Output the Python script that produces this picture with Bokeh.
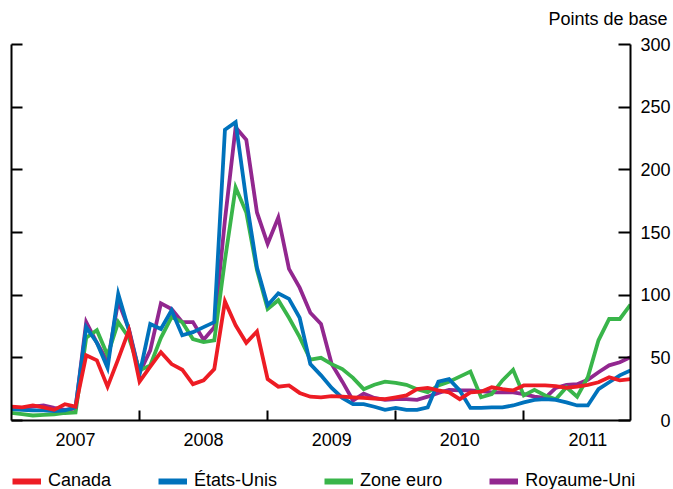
from bokeh.plotting import figure
from bokeh.layouts import column
from bokeh.models import LinearAxis, FixedTicker, Legend, LegendItem, Range1d, Label
from bokeh.embed import file_html
from bokeh.resources import INLINE

# Monthly data, January 2007 (index 0) to November 2011 (index 58)
months = list(range(59))

canada = [11, 10.5, 12, 10.5, 8.5, 13, 11, 52, 48, 27, 49, 72, 31, 43, 54.5, 45, 40.5, 29, 32, 41,
          95, 76, 62, 71, 33, 27, 28, 22, 19, 18.5, 19.5, 19, 18.5, 18, 17.5, 17, 18.5, 20, 25, 26,
          24, 22.5, 17, 22.5, 23, 26.5, 25, 24, 28, 28, 28, 27.5, 26, 27, 28.5, 30.5, 34.5, 32, 33]

etats_unis = [9, 8.5, 8, 8, 7.5, 8, 10.5, 74.5, 62, 42, 101, 72, 37, 77, 73, 88, 68, 70.5, 74.5, 78.5,
              232, 238, 176, 122, 92, 101.5, 97, 82, 45, 36, 26, 18, 13, 13, 11, 8.5, 10, 8.5, 8.5, 10.5,
              31, 33, 24, 10, 10, 10.5, 10.5, 12, 14.5, 16.5, 17, 16.5, 14.5, 12, 12, 25, 30.5, 36, 40]

zone_euro = [6, 5, 4, 4.5, 5, 6, 6.5, 66, 72, 52, 78.5, 66, 40, 44, 66, 82.5, 78.5, 65, 62.5, 64,
             128, 186, 166, 120, 89, 96, 82, 66.5, 48.5, 50, 45, 41, 34, 25, 28.5, 31, 30, 28.5, 25, 22.5,
             28, 31, 35, 39, 18.5, 21, 32, 40.5, 20, 24.5, 20, 17, 26.5, 19, 34.5, 64, 81, 81, 92.5]

royaume_uni = [9.5, 10, 11, 12, 10, 8.5, 9.5, 78.5, 62, 47, 95, 73, 38, 56, 93.5, 89, 78.5, 78.5, 64.5, 74.5,
               160, 234, 224, 166, 141, 162, 121, 106, 86, 77, 45, 31, 16, 21.5, 18, 16.5, 17, 17, 16.5, 19,
               22, 24.5, 24, 24, 23.5, 22.5, 22.5, 22.5, 21, 19, 18, 26, 28.5, 29, 32.5, 38.5, 44, 46.5, 50.5]

years = ["2007", "2008", "2009", "2010", "2011"]
year_centers = [6, 18, 30, 42, 54]
year_bounds = [12, 24, 36, 48]
y_ticks = [0, 50, 100, 150, 200, 250, 300]
y_tick_labels = ["0", "50", "100", "150", "200", "250", "300"]

series = [
    ("Royaume-Uni", royaume_uni, "#92278F"),
    ("Zone euro", zone_euro, "#39B54A"),
    ("États-Unis", etats_unis, "#0072BC"),
    ("Canada", canada, "#ED1C24"),
]
legend_order = ["Canada", "États-Unis", "Zone euro", "Royaume-Uni"]
colors = {n: c for n, _, c in series}

FONT = "Liberation Sans"
FIG_SPACE = "\u2007"  # digit-width space, used to right-align the axis labels


def strip(height, xr=(0, 1), yr=(0, 1)):
    f = figure(width=673, height=height, output_backend="svg", toolbar_location=None,
               x_range=Range1d(*xr), y_range=Range1d(*yr),
               x_axis_location=None, y_axis_location=None,
               min_border_left=0, min_border_right=0, min_border_top=0, min_border_bottom=0)
    f.outline_line_color = None
    f.grid.visible = False
    f.frame_align = False
    return f


# --- top strip: unit label
top = strip(30, (0, 673), (0, 30))
top.add_layout(Label(x=667, y=12, text="Points de base", text_align="right", text_baseline="middle",
                     text_font_size="18px", text_font=FONT, text_color="black"))

# --- main chart
p = figure(width=673, height=423, output_backend="svg", toolbar_location=None,
           x_range=Range1d(0, 58), y_range=Range1d(0, 300),
           x_axis_location=None, y_axis_location=None,
           min_border_left=11, min_border_right=43, min_border_top=14, min_border_bottom=33)
p.outline_line_color = None
p.grid.visible = False
p.frame_align = False
p.background_fill_color = "white"
p.border_fill_color = "white"

for name, vals, col in series:
    p.line(months, vals, line_color=col, line_width=3.8, line_join="miter")

# Bottom axis: year labels centred, ticks at year boundaries
xaxis = LinearAxis(ticker=FixedTicker(ticks=year_centers, minor_ticks=year_bounds),
                   major_label_overrides={c: y for c, y in zip(year_centers, years)},
                   major_tick_in=0, major_tick_out=0, minor_tick_in=10, minor_tick_out=0,
                   axis_line_width=2, minor_tick_line_width=2, axis_line_color="black",
                   minor_tick_line_color="black",
                   major_label_text_font_size="18px", major_label_text_font=FONT,
                   major_label_text_color="black", major_label_standoff=12)
p.add_layout(xaxis, "below")

# Left axis: ticks only
yl = LinearAxis(ticker=FixedTicker(ticks=y_ticks), major_tick_in=11, major_tick_out=0,
                minor_tick_in=0, minor_tick_out=0,
                major_label_overrides={t: "" for t in y_ticks},
                major_label_standoff=0, axis_line_width=2, major_tick_line_width=2,
                axis_line_color="black", major_tick_line_color="black")
p.add_layout(yl, "left")

# Right axis with right-aligned labels
width_max = max(len(s) for s in y_tick_labels)
yr = LinearAxis(ticker=FixedTicker(ticks=y_ticks), major_tick_in=12, major_tick_out=0,
                minor_tick_in=0, minor_tick_out=0,
                major_label_overrides={t: FIG_SPACE * (width_max - len(s)) + s
                                       for t, s in zip(y_ticks, y_tick_labels)},
                major_label_text_font_size="18px", major_label_text_font=FONT,
                major_label_text_color="black", major_label_standoff=10,
                axis_line_width=2, major_tick_line_width=2,
                axis_line_color="black", major_tick_line_color="black")
p.add_layout(yr, "right")

# --- bottom strip: legend
lf = strip(36)
leg_r = {n: lf.line([-1], [-1], line_color=colors[n], line_width=6) for n in legend_order}
legend = Legend(items=[LegendItem(label=n, renderers=[leg_r[n]]) for n in legend_order],
                location=(12, -2), orientation="horizontal", padding=0, margin=0, spacing=47,
                glyph_width=29, glyph_height=20, label_height=20, label_standoff=7,
                label_text_font_size="18px", label_text_font=FONT, label_text_color="black",
                border_line_color=None, background_fill_alpha=0)
lf.add_layout(legend)

open("out.html", "w").write(file_html(column(top, p, lf, spacing=0), INLINE))
